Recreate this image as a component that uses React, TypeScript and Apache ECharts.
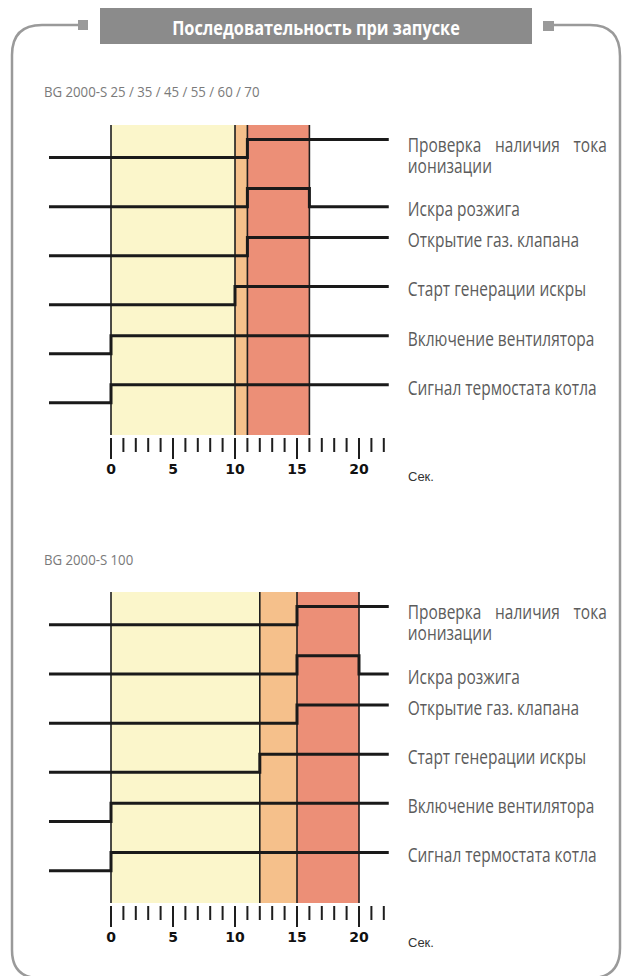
import React, { useEffect, useRef } from "react";
import * as echarts from "echarts";

// ---- data ----
const signalNames = [
  "Проверка наличия тока\nионизации",
  "Искра розжига",
  "Открытие газ. клапана",
  "Старт генерации искры",
  "Включение вентилятора",
  "Сигнал термостата котла",
];
// switching moments (seconds) for each signal, top to bottom
const edgesA = [[11], [11, 16], [11], [10], [0], [0]];
const edgesB = [[15], [15, 20], [15], [12], [0], [0]];
// phase bands [start, end, colourIndex]
const phasesA = [
  [0, 10, 0],
  [10, 11, 1],
  [11, 16, 2],
];
const phasesB = [
  [0, 12, 0],
  [12, 15, 1],
  [15, 20, 2],
];
const boundariesA = [0, 10, 11, 16];
const boundariesB = [0, 12, 15, 20];
const tickValues = [0, 1, 2, 3, 4, 5, 6, 7, 8, 9, 10, 11, 12, 13, 14, 15, 16, 17, 18, 19, 20, 21, 22];
const majorTicks = [0, 5, 10, 15, 20];
const LINE_START = -5;
const LINE_END = 22.4;
const STEP = 0.37;

const X_MIN = -5;
const X_MAX = 22.5;
const Y_MIN = -0.655;
const Y_MAX = 5.665;
const phaseColors = ["#FBF6CB", "#F5C08B", "#EC8F77"];
const LABEL_FAMILY = "'Open Sans', 'DejaVu Sans', sans-serif";
const LABEL_SIZE = 20;
const LABEL_COLOR = "#5c5c5c";

function buildSignal(edges: number[], base: number) {
  const low = base;
  const high = base + STEP;
  let state = low;
  const pts: number[][] = [[LINE_START, state]];
  edges.forEach((e) => {
    pts.push([e, state]);
    state = state === low ? high : low;
    pts.push([e, state]);
  });
  pts.push([LINE_END, state]);
  return pts;
}

function chartSeries(idx: number, edges: number[][], phases: number[][], bounds: number[]) {
  const s: any[] = [];
  s.push({
    type: "custom",
    xAxisIndex: idx,
    yAxisIndex: idx,
    data: phases,
    encode: { x: [0, 1] },
    z: 1,
    renderItem: (params: any, api: any) => {
      const a = api.coord([api.value(0), Y_MAX]);
      const b = api.coord([api.value(1), Y_MIN]);
      return {
        type: "rect",
        shape: { x: a[0], y: a[1], width: b[0] - a[0], height: b[1] - a[1] },
        style: { fill: phaseColors[api.value(2)] },
      };
    },
  });
  s.push({
    type: "custom",
    xAxisIndex: idx,
    yAxisIndex: idx,
    data: bounds.map((v) => [v, 0]),
    encode: { x: 0 },
    z: 2,
    renderItem: (params: any, api: any) => {
      const a = api.coord([api.value(0), Y_MAX]);
      const b = api.coord([api.value(0), Y_MIN]);
      return {
        type: "line",
        shape: { x1: a[0], y1: a[1], x2: b[0], y2: b[1] },
        style: { stroke: "#1e1e1e", lineWidth: 1.6 },
      };
    },
  });
  s.push({
    type: "custom",
    xAxisIndex: idx,
    yAxisIndex: idx,
    data: tickValues.map((v) => [v, 0]),
    encode: { x: 0 },
    clip: false,
    z: 2,
    renderItem: (params: any, api: any) => {
      const v = api.value(0);
      const p = api.coord([v, Y_MIN]);
      const len = majorTicks.indexOf(v) >= 0 ? 21 : 14;
      return {
        type: "line",
        shape: { x1: p[0], y1: p[1] + 3, x2: p[0], y2: p[1] + 3 + len },
        style: { stroke: "#1e1e1e", lineWidth: 2 },
      };
    },
  });
  edges.forEach((e, i) => {
    const base = 5 - i;
    s.push({
      type: "line",
      name: signalNames[i],
      xAxisIndex: idx,
      yAxisIndex: idx,
      data: buildSignal(e, base),
      symbol: "none",
      z: 5,
      lineStyle: { color: "#1a1a1a", width: 3, join: "miter", cap: "butt" },
    });
  });
  return s;
}

function lbl(text: string, x: number, y: number, sx: number) {
  return {
    type: "text",
    x,
    y,
    scaleX: sx,
    z: 10,
    style: {
      text,
      fill: LABEL_COLOR,
      fontFamily: LABEL_FAMILY,
      fontSize: LABEL_SIZE,
      align: "left",
      verticalAlign: "middle",
    },
  };
}

export default function App() {
  const ref = useRef<HTMLDivElement>(null);
  useEffect(() => {
    document.body.style.margin = "0";
    const chart = echarts.init(ref.current!, null, { renderer: "svg" });
    const axisX = (gi: number) => ({
      type: "value",
      gridIndex: gi,
      min: X_MIN,
      max: X_MAX,
      interval: 5,
      axisLine: { show: false },
      axisTick: { show: false },
      splitLine: { show: false },
      axisLabel: {
        margin: 27,
        fontFamily: "'DejaVu Sans', sans-serif",
        fontWeight: "bold",
        fontSize: 14,
        color: "#111",
        showMinLabel: true,
        showMaxLabel: true,
        formatter: (v: number) => (majorTicks.indexOf(v) >= 0 ? String(v) : ""),
      },
    });
    const axisY = (gi: number) => ({
      type: "value",
      gridIndex: gi,
      min: Y_MIN,
      max: Y_MAX,
      show: false,
    });
    const frame = "#9a9a9a";
    const baseGraphic: any[] = [
      // frame
      { type: "line", shape: { x1: 12, y1: 55, x2: 12, y2: 950 }, style: { stroke: frame, lineWidth: 2.5 } },
      { type: "bezierCurve", shape: { x1: 12, y1: 55, cpx1: 12, cpy1: 25, x2: 42, y2: 25 }, style: { stroke: frame, lineWidth: 2.5, fill: "none" } },
      { type: "line", shape: { x1: 42, y1: 25, x2: 80, y2: 25 }, style: { stroke: frame, lineWidth: 2.5 } },
      { type: "rect", shape: { x: 78, y: 20, width: 10, height: 10 }, style: { fill: frame } },
      { type: "bezierCurve", shape: { x1: 12, y1: 950, cpx1: 12, cpy1: 976, x2: 36, y2: 978 }, style: { stroke: frame, lineWidth: 2.5, fill: "none" } },
      { type: "line", shape: { x1: 620, y1: 56, x2: 620, y2: 948 }, style: { stroke: frame, lineWidth: 2.5 } },
      { type: "bezierCurve", shape: { x1: 590, y1: 25, cpx1: 620, cpy1: 25, x2: 620, y2: 56 }, style: { stroke: frame, lineWidth: 2.5, fill: "none" } },
      { type: "line", shape: { x1: 553, y1: 25, x2: 590, y2: 25 }, style: { stroke: frame, lineWidth: 2.5 } },
      { type: "rect", shape: { x: 543, y: 21, width: 11, height: 10 }, style: { fill: frame } },
      { type: "bezierCurve", shape: { x1: 620, y1: 948, cpx1: 620, cpy1: 976, x2: 594, y2: 978 }, style: { stroke: frame, lineWidth: 2.5, fill: "none" } },
      // header
      { type: "rect", shape: { x: 100, y: 8, width: 432, height: 36 }, style: { fill: "#8b8b8b" } },
      {
        type: "text",
        x: 316,
        y: 27,
        scaleX: 0.86,
        style: {
          text: "Последовательность при запуске",
          fill: "#ffffff",
          fontFamily: "'Open Sans', 'DejaVu Sans', sans-serif",
          fontWeight: "bold",
          fontSize: 19,
          align: "center",
          verticalAlign: "middle",
        },
      },
      // subtitles
      {
        type: "text",
        x: 44,
        y: 91,
        scaleX: 0.88,
        style: {
          text: "BG 2000-S 25 / 35 / 45 / 55 / 60 / 70",
          fill: "#7a7a7a",
          fontFamily: LABEL_FAMILY,
          fontSize: 15,
          verticalAlign: "middle",
        },
      },
      {
        type: "text",
        x: 44,
        y: 559,
        scaleX: 0.88,
        style: {
          text: "BG 2000-S 100",
          fill: "#7a7a7a",
          fontFamily: LABEL_FAMILY,
          fontSize: 15,
          verticalAlign: "middle",
        },
      },
      // unit labels
      { type: "text", x: 408, y: 476, style: { text: "Сек.", fill: "#333", fontFamily: "'Liberation Sans', sans-serif", fontSize: 13, verticalAlign: "middle" } },
      { type: "text", x: 408, y: 942, style: { text: "Сек.", fill: "#333", fontFamily: "'Liberation Sans', sans-serif", fontSize: 13, verticalAlign: "middle" } },
    ];
    chart.setOption({
      animation: false,
      backgroundColor: "#ffffff",
      grid: [
        { left: 49, top: 125, width: 341, height: 310 },
        { left: 49, top: 592, width: 341, height: 311 },
      ],
      xAxis: [axisX(0), axisX(1)],
      yAxis: [axisY(0), axisY(1)],
      series: [...chartSeries(0, edgesA, phasesA, boundariesA), ...chartSeries(1, edgesB, phasesB, boundariesB)],
      graphic: baseGraphic,
    });

    // measure label widths to condense the font like the original
    const ctx = document.createElement("canvas").getContext("2d")!;
    ctx.font = `${LABEL_SIZE}px ${LABEL_FAMILY}`;
    const sx = 189 / ctx.measureText("Сигнал термостата котла").width;
    const JUSTIFY_W = 199;

    const labels: any[] = [];
    [edgesA, edgesB].forEach((edges, k) => {
      edges.forEach((e, i) => {
        const pts = buildSignal(e, 5 - i);
        const end = pts[pts.length - 1];
        const p = chart.convertToPixel({ xAxisIndex: k, yAxisIndex: k } as any, end) as number[];
        const x = p[0] + 19;
        if (i === 0) {
          const [l1, l2] = signalNames[0].split("\n");
          const words = l1.split(" ");
          const widths = words.map((w) => ctx.measureText(w).width * sx);
          const total = widths.reduce((a, b) => a + b, 0);
          const gap = (JUSTIFY_W - total) / (words.length - 1);
          let cx = x;
          words.forEach((w, j) => {
            labels.push(lbl(w, cx, p[1] + 5, sx));
            cx += widths[j] + gap;
          });
          labels.push(lbl(l2, x, p[1] + 26, sx));
        } else {
          labels.push(lbl(signalNames[i], x, p[1] + 2, sx));
        }
      });
    });
    chart.setOption({ graphic: [...baseGraphic, ...labels] });
    return () => chart.dispose();
  }, []);
  return <div ref={ref} style={{ width: 625, height: 976 }} />;
}
